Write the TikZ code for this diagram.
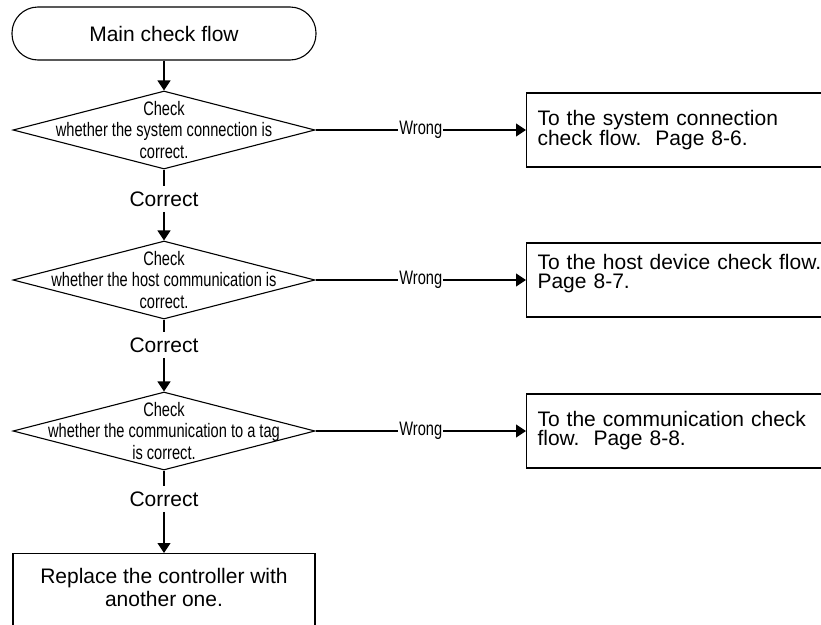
\documentclass[tikz,border=0pt]{standalone}
\usepackage{fontspec}
\setmainfont{Liberation Sans}
\newfontfamily\narrowfont[FakeStretch=0.75]{Liberation Sans}
\usetikzlibrary{shapes, arrows.meta, positioning, calc}

\begin{document}
\begin{tikzpicture}[x=1pt, y=-1pt, line width=1.1pt,
  every node/.style={font=\fontsize{21}{19}\selectfont},
  startbox/.style={draw, rounded corners=26pt, minimum width=304pt, minimum height=53pt},
  checkbox/.style={draw, diamond, inner sep=0pt, minimum width=302pt, minimum height=78pt},
  checktext/.style={align=center, inner sep=0pt, font=\narrowfont\fontsize{19.5}{21.5}\selectfont},
  gobox/.style={draw, anchor=west, minimum height=74pt, text width=300pt, inner xsep=11pt, align=left},
  endbox/.style={draw, anchor=north, minimum width=302pt, align=center, inner ysep=15pt, text depth=30pt, font=\fontsize{21}{23}\selectfont},
  flow/.style={-{Triangle[length=10pt, width=13pt]}},
  yes/.style={inner sep=5pt},
  no/.style={fill=white, inner sep=1pt, font=\narrowfont\fontsize{19.5}{21}\selectfont}]
  \useasboundingbox (0,0) rectangle (821,624);
  \clip (0,0) rectangle (821,624);

  \node[startbox] (start) at (164, 33.5) {Main check flow};

  \node[checkbox] (d1) at (164, 130) {};
  \node[checktext] (d1t) at (d1) {Check\\whether the system connection is\\correct.};
  \node[checkbox] (d2) at (164, 280) {};
  \node[checktext] (d2t) at (d2) {Check\\whether the host communication is\\correct.};
  \node[checkbox] (d3) at (164, 431) {};
  \node[checktext] (d3t) at (d3) {Check\\whether the communication to a tag\\is correct.};

  \node[yes] (c1) at (164, 199) {Correct};
  \node[yes] (c2) at (164, 345) {Correct};
  \node[yes] (c3) at (164, 499) {Correct};

  \node[gobox] (b1) at (526, 130) {To the system connection\\check flow.\ \ Page 8-6.};
  \node[gobox, text depth=36pt] (b2) at (526, 280) {To the host device check flow.\\Page 8-7.};
  \node[gobox] (b3) at (526, 431) {To the communication check\\flow.\ \ Page 8-8.};

  \node[endbox] (fix) at (164, 553) {Replace the controller with\\another one.};

  \draw[flow] (start) -- (d1);
  \draw (d1) -- (c1);
  \draw[flow] (c1) -- (d2);
  \draw (d2) -- (c2);
  \draw[flow] (c2) -- (d3);
  \draw (d3) -- (c3);
  \draw[flow] (c3) -- (fix);

  \draw[flow] (d1.east) -- node[no] {Wrong} (b1.west);
  \draw[flow] (d2.east) -- node[no] {Wrong} (b2.west);
  \draw[flow] (d3.east) -- node[no] {Wrong} (b3.west);
\end{tikzpicture}
\end{document}
